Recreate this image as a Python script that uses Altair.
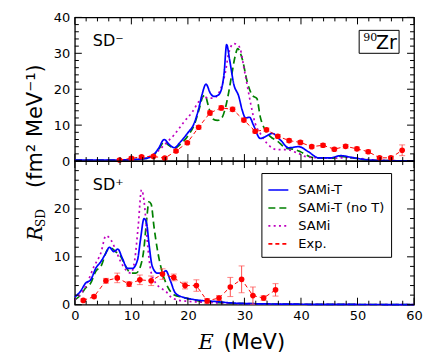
import altair as alt
import pandas as pd

# ---------------- data ----------------
# SD- panel
top_blue_E = [0, 4, 8, 10, 12, 13.5, 14.8, 15.8, 16.7, 17.6, 18.6, 19.9, 21.1, 21.9, 22.5, 23.2, 24.0, 24.6, 25.3, 25.9, 26.4, 26.85, 27.4, 28.1, 29.0, 29.6, 30.2, 30.9, 31.6, 32.8, 33.7, 34.9, 36.4, 37.8, 39.6, 41.3, 43.1, 45.2, 47.0, 49.0, 52, 56, 60]
top_blue_R = [0.3, 0.3, 0.3, 0.4, 0.6, 1.2, 3.5, 6.0, 4.6, 3.7, 5.2, 7.7, 10.5, 14.5, 18.5, 21.4, 18.8, 18.0, 18.3, 19.8, 24.4, 32.4, 28.0, 21.5, 18.0, 14.2, 12.0, 12.2, 10.0, 6.3, 6.8, 7.7, 5.8, 3.7, 4.0, 2.6, 0.9, 0.9, 1.5, 1.0, 0.3, 0.1, 0.05]

top_green_E = [0, 4, 8, 10, 12, 13.5, 14.8, 15.8, 16.7, 17.6, 18.6, 19.3, 20.2, 21.1, 22.0, 22.6, 23.0, 23.6, 24.3, 25.3, 26.0, 26.6, 27.2, 27.8, 28.4, 28.8, 29.6, 30.5, 31.4, 32.2, 32.8, 33.7, 34.6, 35.8, 37.5, 38.7, 39.9, 41.6, 43.5, 45.5, 47, 49, 52, 56, 60]
top_green_R = [0.3, 0.3, 0.3, 0.4, 0.6, 1.1, 3.2, 5.3, 4.3, 3.5, 4.6, 5.6, 7.5, 10.0, 14.5, 17.8, 18.3, 15.5, 11.8, 11.3, 12.0, 14.6, 19.0, 24.5, 29.5, 31.3, 28.5, 22.0, 18.3, 17.4, 12.3, 8.6, 6.8, 5.6, 3.5, 3.3, 2.6, 1.2, 0.8, 0.8, 1.3, 0.9, 0.3, 0.1, 0.05]

top_mag_E = [0, 4, 8, 10, 12, 13.5, 14.5, 15.2, 16.4, 17.5, 18.4, 19.3, 20.8, 21.9, 22.8, 23.6, 24.5, 25.3, 26.0, 26.6, 27.2, 28.1, 28.7, 29.3, 29.9, 30.5, 31.1, 31.9, 32.8, 34.0, 35.8, 37.5, 39.3, 41.0, 43.3, 46, 48, 50, 53, 57, 60]
top_mag_R = [0.3, 0.3, 0.3, 0.4, 0.7, 1.5, 2.5, 3.5, 5.4, 7.2, 9.0, 10.9, 13.7, 16.5, 18.0, 17.5, 17.5, 18.5, 21.0, 24.5, 29.9, 32.7, 32.5, 31.0, 26.0, 21.0, 16.0, 10.5, 7.7, 4.9, 3.2, 3.2, 2.3, 1.2, 0.9, 0.8, 1.0, 0.8, 0.3, 0.1, 0.05]

top_exp_E = [7.9, 10, 11.8, 13.9, 15.9, 17.9, 19.9, 21.9, 23.9, 25.9, 27.9, 29.9, 31.9, 33.9, 35.9, 37.9, 39.9, 41.9, 43.9, 45.9, 47.9, 49.9, 51.9, 53.9, 55.9, 57.9]
top_exp_R = [0.3, 0.75, 1.2, 1.3, 0.8, 2.8, 5.1, 9.4, 13.4, 14.8, 14.4, 11.4, 8.3, 8.7, 6.9, 5.7, 5.2, 4.0, 4.4, 3.3, 4.1, 3.4, 2.6, 0.9, 0.9, 3.0]
top_exp_err = [0.2, 0.4, 0.3, 0.3, 0.3, 0.4, 0.4, 0.5, 0.6, 0.6, 0.6, 0.5, 0.5, 0.5, 0.5, 0.5, 0.5, 0.4, 0.5, 0.5, 0.5, 0.5, 0.5, 0.4, 0.4, 1.5]

# SD+ panel
bot_blue_E = [0, 1.0, 1.9, 2.8, 3.7, 4.6, 5.5, 6.1, 6.9, 7.6, 8.4, 9.3, 10.2, 11.1, 11.6, 12.25, 12.7, 13.1, 13.7, 14.6, 15.5, 16.1, 16.9, 17.8, 19.3, 20.5, 22.2, 24.6, 28, 32, 40, 50, 60]
bot_blue_R = [1.6, 2.8, 4.5, 5.2, 7.6, 9.0, 10.8, 12.0, 11.1, 11.6, 9.7, 7.6, 7.6, 9.4, 13.5, 18.0, 17.0, 12.9, 8.0, 6.6, 6.6, 7.1, 5.0, 2.4, 1.5, 1.2, 0.9, 0.7, 0.35, 0.2, 0.1, 0.05, 0.03]

bot_green_E = [0, 1.0, 1.9, 2.8, 3.7, 4.6, 5.8, 6.4, 7.2, 8.1, 9.0, 9.9, 10.8, 11.6, 12.2, 12.7, 13.1, 13.5, 14.0, 14.6, 15.5, 16.4, 17.5, 19.3, 22, 26, 30, 40, 50, 60]
bot_green_R = [1.0, 2.0, 3.5, 4.5, 7.0, 8.0, 11.5, 11.8, 11.1, 10.1, 8.0, 6.6, 6.6, 8.0, 11.5, 17.7, 21.5, 21.0, 16.3, 11.5, 6.6, 3.8, 2.1, 1.5, 0.8, 0.4, 0.25, 0.1, 0.05, 0.03]

bot_mag_E = [0, 1.9, 3.4, 4.6, 5.5, 6.4, 7.2, 8.1, 9.0, 9.9, 10.6, 11.2, 11.8, 12.35, 12.8, 13.4, 14.3, 15.2, 16.1, 16.9, 18.1, 20, 23, 27, 32, 40, 50, 60]
bot_mag_R = [1.0, 3.8, 8.0, 10.8, 14.4, 13.5, 11.5, 9.0, 7.3, 6.6, 9.4, 16.3, 24.0, 20.5, 13.5, 7.3, 4.5, 3.5, 2.8, 1.7, 1.0, 0.7, 0.5, 0.3, 0.2, 0.1, 0.05, 0.03]

bot_exp_E = [1.5, 3.4, 5.5, 7.5, 9.6, 11.5, 13.5, 15.5, 17.5, 19.5, 21.5, 23.4, 25.5, 27.5, 29.5, 31.5, 33.4, 35.5]
bot_exp_R = [0.9, 1.7, 5.0, 5.6, 4.3, 5.2, 5.0, 6.4, 5.7, 4.0, 4.0, 0.8, 1.4, 3.7, 5.3, 1.9, 1.4, 3.1]
bot_exp_err = [0.3, 0.3, 0.5, 1.0, 0.5, 1.0, 1.0, 1.1, 0.7, 0.7, 1.2, 0.5, 0.5, 2.0, 2.8, 1.8, 0.5, 1.3]

series_names = ["SAMi-T", "SAMi-T (no T)", "SAMi", "Exp."]
series_colors = ["#0000ff", "#008000", "#bf00bf", "#ff0000"]
series_dashes = [[1, 0], [7, 4], [2, 3.3], [4, 3]]

x_major = [0, 10, 20, 30, 40, 50, 60]
x_minor = [v for v in range(0, 61, 2) if v % 10]
top_y_major = [0, 10, 20, 30, 40]
top_y_minor = [v for v in range(0, 41, 2) if v % 10]
bot_y_major = [0, 10, 20, 30]
bot_y_minor = [v for v in range(0, 31, 2) if v % 10]
x_labels = [0, 10, 20, 30, 40, 50, 60]
top_y_labels = [0, 10, 20, 30, 40]
bot_y_labels = [0, 10, 20]

# ---------------- chart ----------------
W, H = 340, 144
MAJ, MIN = 7, 4
xsc = alt.Scale(domain=[0, 60], nice=False, zero=False)
csc = alt.Scale(domain=series_names, range=series_colors)
dsc = alt.Scale(domain=series_names, range=series_dashes)


def model_df(blue, green, mag):
    rows = []
    for name, (E, R) in [("SAMi-T (no T)", green), ("SAMi", mag), ("SAMi-T", blue)]:
        for e, r in zip(E, R):
            rows.append({"E": e, "R": r, "series": name})
    return pd.DataFrame(rows)


def exp_df(E, R, err):
    return pd.DataFrame({"E": E, "R": R,
                         "lo": [max(r - s, 0) for r, s in zip(R, err)],
                         "hi": [r + s for r, s in zip(R, err)]})


def make_axis(values, show):
    return alt.Axis(values=values, ticks=False, domain=False, grid=False,
                    title=None, labels=show, labelFontSize=13, labelFont="DejaVu Sans",
                    labelColor="black", labelPadding=5, labelFlush=False,
                    labelOverlap=False, format="d")


def panel(models, exp, ysc, y_labels, y_major, y_minor, legend, x_axis):
    xa = make_axis(x_labels, x_axis)
    ya = make_axis(y_labels, True)

    def X(f):
        return alt.X(f, scale=xsc, axis=xa)

    def Y(f):
        return alt.Y(f, scale=ysc, axis=ya)

    lines = alt.Chart(models).mark_line(interpolate="monotone", strokeWidth=1.7).encode(
        x=X("E:Q"), y=Y("R:Q"),
        color=alt.Color("series:N", scale=csc, legend=legend, sort=series_names),
        strokeDash=alt.StrokeDash("series:N", scale=dsc, legend=legend, sort=series_names),
        detail="series:N",
    )
    eline = alt.Chart(exp).mark_line(color="#ff0000", strokeWidth=1, strokeDash=[4, 3]).encode(
        x=X("E:Q"), y=Y("R:Q"))
    ebar = alt.Chart(exp).mark_rule(color="#ff5050", strokeWidth=1).encode(
        x=X("E:Q"), y=Y("lo:Q"), y2="hi:Q")
    cap_lo = alt.Chart(exp).mark_tick(color="#ff5050", orient="horizontal", size=6, thickness=1).encode(
        x=X("E:Q"), y=Y("lo:Q"))
    cap_hi = alt.Chart(exp).mark_tick(color="#ff5050", orient="horizontal", size=6, thickness=1).encode(
        x=X("E:Q"), y=Y("hi:Q"))
    pts = alt.Chart(exp).mark_circle(color="#ff0000", size=32, opacity=1).encode(
        x=X("E:Q"), y=Y("R:Q"))
    layers = [lines, eline, ebar, cap_lo, cap_hi, pts]
    for vals, L in [(x_major, MAJ), (x_minor, MIN)]:
        base = alt.Chart(pd.DataFrame({"E": vals})).mark_rule(color="black", strokeWidth=1)
        layers.append(base.encode(x=X("E:Q"), y=alt.value(H), y2=alt.value(H - L)))
        layers.append(base.encode(x=X("E:Q"), y=alt.value(0), y2=alt.value(L)))
    for vals, L in [(y_major, MAJ), (y_minor, MIN)]:
        base = alt.Chart(pd.DataFrame({"R": vals})).mark_rule(color="black", strokeWidth=1)
        layers.append(base.encode(y=Y("R:Q"), x=alt.value(0), x2=alt.value(L)))
        layers.append(base.encode(y=Y("R:Q"), x=alt.value(W), x2=alt.value(W - L)))
    return layers


def label(text, x, y, size, font="DejaVu Sans", style="normal", align="left",
          baseline="alphabetic", angle=0):
    kw = dict(text=text, fontSize=size, font=font, fontStyle=style, align=align,
              baseline=baseline, color="black")
    if angle:
        kw["angle"] = angle
    return alt.Chart(pd.DataFrame({"a": [0]})).mark_text(**kw).encode(
        x=alt.value(x), y=alt.value(y))


ysc_top = alt.Scale(domain=[0, 40], nice=False, zero=True)
ysc_bot = alt.Scale(domain=[0, 30], nice=False, zero=True)

legend = alt.Legend(
    title=None, orient="none", legendX=187, legendY=12,
    symbolType="stroke", symbolSize=400, symbolStrokeWidth=1.6,
    labelFontSize=13, labelFont="DejaVu Sans", labelColor="black",
    rowPadding=-2, padding=6, strokeColor="black", fillColor="white",
    labelOffset=9, cornerRadius=0, symbolFillColor="transparent",
)

top_layers = panel(model_df((top_blue_E, top_blue_R), (top_green_E, top_green_R),
                            (top_mag_E, top_mag_R)),
                   exp_df(top_exp_E, top_exp_R, top_exp_err),
                   ysc_top, top_y_labels, top_y_major, top_y_minor, None, False)
top_layers += [
    label("SD⁻", 18, 29, 16),
    alt.Chart(pd.DataFrame({"a": [0]})).mark_rect(fill="white", stroke="black", strokeWidth=1).encode(
        x=alt.value(285), x2=alt.value(325), y=alt.value(13), y2=alt.value(36)),
    label("90", 289, 24, 11, font="DejaVu Serif"),
    label("Zr", 302, 32, 19),
    label("R", -33, 224, 20, font="DejaVu Serif", style="italic", angle=270),
    label("SD", -30, 210, 12, font="DejaVu Serif", angle=270),
    label("(fm²  MeV⁻¹)", -33, 109, 21, align="center", angle=270),
]

bot_layers = panel(model_df((bot_blue_E, bot_blue_R), (bot_green_E, bot_green_R),
                            (bot_mag_E, bot_mag_R)),
                   exp_df(bot_exp_E, bot_exp_R, bot_exp_err),
                   ysc_bot, bot_y_labels, bot_y_major, bot_y_minor, legend, True)
bot_layers += [
    label("SD⁺", 18, 29, 16),
    label("E", 124, 188, 21, font="DejaVu Serif", style="italic"),
    label("(MeV)", 149, 188, 21),
]

top = alt.layer(*top_layers).properties(width=W, height=H)
bot = alt.layer(*bot_layers).properties(width=W, height=H)

chart = alt.vconcat(top, bot, spacing=0, bounds="flush").resolve_legend(
    color="independent", strokeDash="independent"
).properties(
    padding={"left": 16, "top": 2, "right": 5, "bottom": 5},
    background="white",
).configure_view(stroke="black", strokeWidth=1.3)

chart.save("out.html", embed_options={"renderer": "svg", "actions": False})
